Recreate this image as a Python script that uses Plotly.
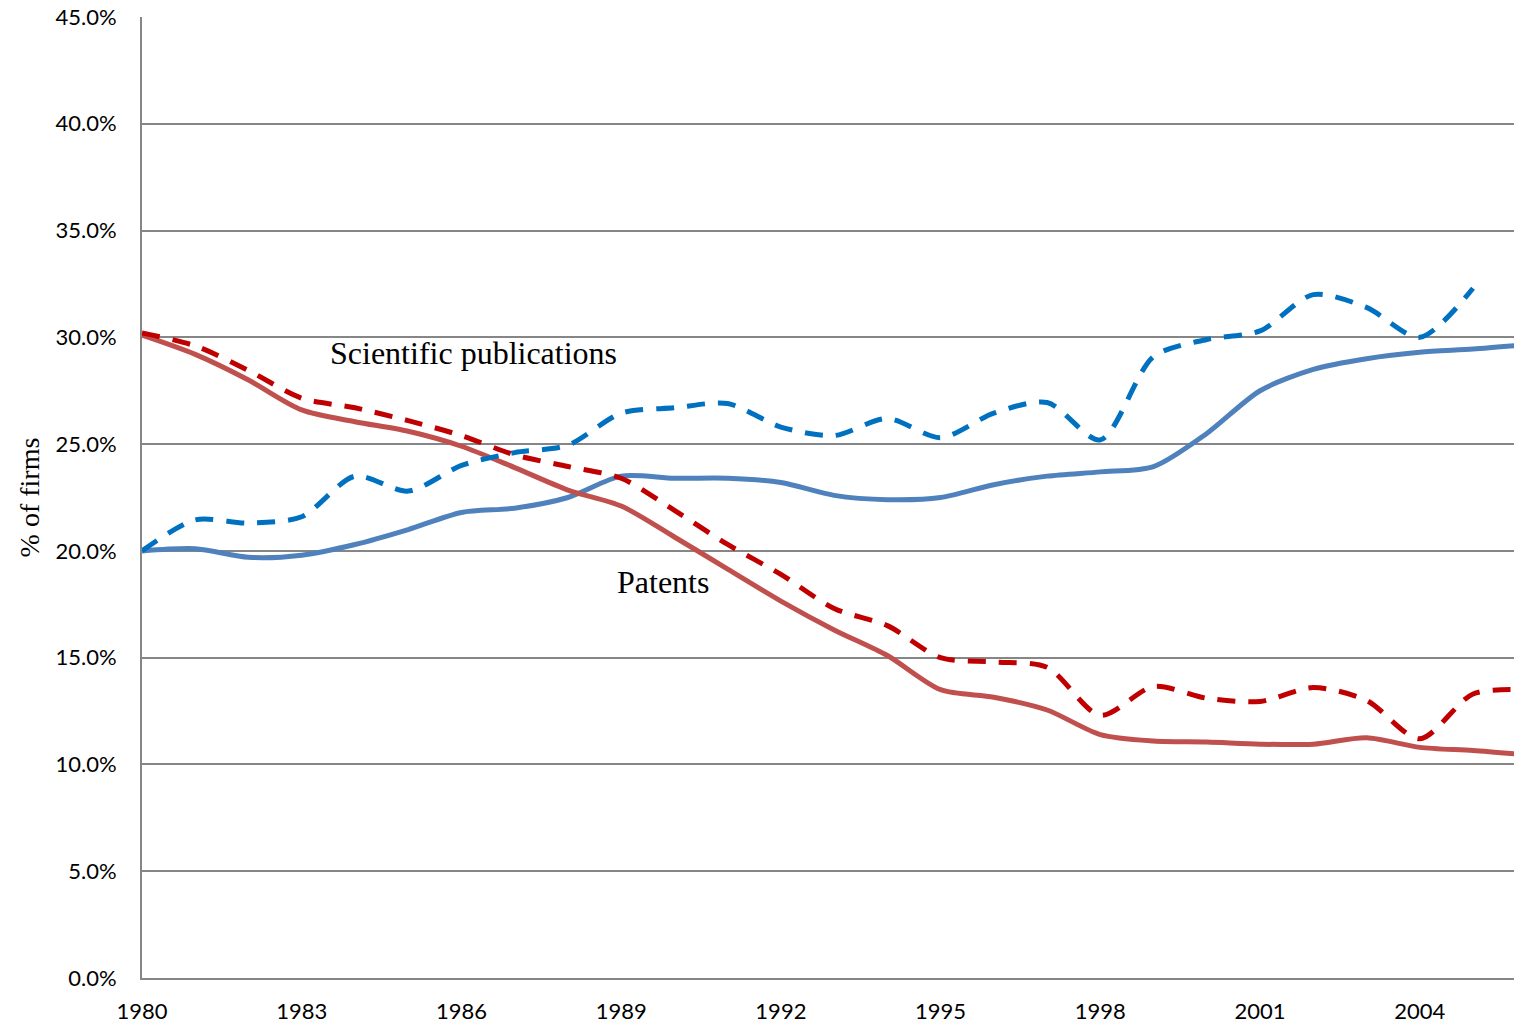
import plotly.graph_objects as go

years = list(range(1980, 2007))

pubs_solid = [20.0, 20.1, 19.7, 19.8, 20.3, 21.0, 21.8, 22.0, 22.5, 23.5, 23.4, 23.4, 23.2, 22.6, 22.4,
              22.5, 23.1, 23.5, 23.7, 23.95, 25.5, 27.5, 28.5, 29.0, 29.3, 29.45, 29.65]
pubs_dash = [20.0, 21.45, 21.3, 21.6, 23.5, 22.8, 24.0, 24.6, 24.95, 26.45, 26.7, 26.9, 25.8, 25.4, 26.2,
             25.3, 26.45, 26.95, 25.2, 29.1, 29.9, 30.3, 32.0, 31.4, 30.0, 32.3, None]
pat_solid = [30.1, 29.2, 28.0, 26.6, 26.05, 25.6, 24.9, 23.9, 22.85, 22.1, 20.65, 19.15, 17.65, 16.3, 15.1,
             13.5, 13.15, 12.55, 11.4, 11.1, 11.05, 10.95, 10.95, 11.25, 10.8, 10.65, 10.45]
pat_dash = [30.2, 29.6, 28.45, 27.15, 26.7, 26.1, 25.4, 24.5, 23.95, 23.4, 21.9, 20.3, 18.9, 17.3, 16.5,
            15.0, 14.8, 14.55, 12.3, 13.65, 13.1, 12.95, 13.6, 13.0, 11.2, 13.3, 13.5]

tick_years = [1980, 1983, 1986, 1989, 1992, 1995, 1998, 2001, 2004]
y_ticks = [0, 5, 10, 15, 20, 25, 30, 35, 40, 45]

series = [
    ("Scientific publications", pubs_solid, "#4F81BD", "solid"),
    ("Patents", pat_solid, "#C0504D", "solid"),
    ("Scientific publications (alt)", pubs_dash, "#0070C0", "18px,13px"),
    ("Patents (alt)", pat_dash, "#C00000", "18px,13px"),
]

fig = go.Figure()
for name, vals, color, dash in series:
    fig.add_trace(go.Scatter(
        x=years, y=vals, mode="lines", name=name,
        line=dict(color=color, width=5, dash=dash, shape="spline", smoothing=0.8),
        connectgaps=False,
    ))

fig.add_annotation(x=1986.22, y=29.25, text="Scientific publications", showarrow=False,
                   font=dict(family="Liberation Serif", size=32, color="black"))
fig.add_annotation(x=1989.78, y=18.54, text="Patents", showarrow=False,
                   font=dict(family="Liberation Serif", size=32, color="black"))

fig.update_layout(
    width=1514, height=1026,
    margin=dict(l=142, r=0, t=17, b=48),
    paper_bgcolor="white", plot_bgcolor="white",
    showlegend=False,
    font=dict(family="Lato", size=22, color="black"),
)
fig.update_xaxes(
    range=[1980, 2005.77], tickmode="array", tickvals=tick_years,
    ticktext=[str(y) for y in tick_years],
    showgrid=False, showline=True, linecolor="#868686", linewidth=2,
    ticks="outside", ticklen=13, tickcolor="rgba(0,0,0,0)",
    tickfont=dict(family="Lato", size=22), zeroline=False,
)
fig.update_yaxes(
    range=[0, 45], tickmode="array", tickvals=y_ticks,
    ticktext=[f"{v:.1f}%" for v in y_ticks],
    showgrid=True, gridcolor="#868686", gridwidth=1.5,
    showline=True, linecolor="#868686", linewidth=2,
    ticks="outside", ticklen=19, tickcolor="rgba(0,0,0,0)",
    tickfont=dict(family="Lato", size=22), zeroline=False,
    title=dict(text="% of firms", font=dict(family="Liberation Serif", size=28), standoff=8),
)

fig.write_html("out.html",
               config={"displayModeBar": False},
               post_script="document.body.style.margin='0';document.body.style.overflow='hidden';")
